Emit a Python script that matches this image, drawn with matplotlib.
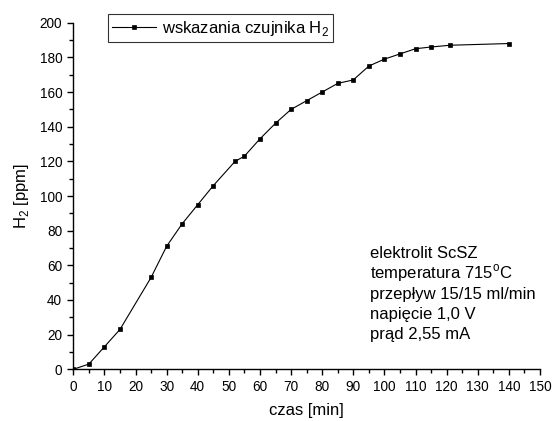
import matplotlib
matplotlib.use("Agg")
import matplotlib.pyplot as plt
from matplotlib.ticker import MultipleLocator

# odczyt czujnika H2 w czasie
czas = [0, 5, 10, 15, 25, 30, 35, 40, 45, 52, 55, 60, 65, 70, 75, 80,
        85, 90, 95, 100, 105, 110, 115, 121, 140]
h2 = [0, 3, 13, 23, 53, 71, 84, 95, 106, 120, 123, 133, 142, 150, 155, 160,
      165, 167, 175, 179, 182, 185, 186, 187, 188]

opis = ["elektrolit ScSZ",
        "temperatura 715$^{\\mathregular{o}}$C",
        "przepływ 15/15 ml/min",
        "napięcie 1,0 V",
        "prąd 2,55 mA"]

plt.rcParams["font.family"] = ["Liberation Sans", "DejaVu Sans"]

fig = plt.figure(figsize=(5.54, 4.21), dpi=100)
ax = fig.add_axes([0.1323, 0.1228, 0.8424, 0.8232])

ax.plot(czas, h2, color="black", lw=0.8, marker="s", ms=3.2, mew=0.5,
        label="wskazania czujnika H$_\\mathregular{2}$")

ax.set_xlim(0, 150)
ax.set_ylim(0, 200)
ax.xaxis.set_major_locator(MultipleLocator(10))
ax.xaxis.set_minor_locator(MultipleLocator(5))
ax.yaxis.set_major_locator(MultipleLocator(20))
ax.yaxis.set_minor_locator(MultipleLocator(10))
for s in ("top", "right"):
    ax.spines[s].set_visible(False)
for s in ("left", "bottom"):
    ax.spines[s].set_linewidth(1.0)
ax.tick_params(which="major", direction="out", length=4.5, width=1.0,
               labelsize=9.8, pad=3.5)
ax.tick_params(which="minor", direction="out", length=2.8, width=1.0)

ax.set_xlabel("czas [min]", fontsize=12, labelpad=6)
ax.set_ylabel("H$_\\mathregular{2}$ [ppm]", fontsize=12, labelpad=6)

leg = ax.legend(loc="upper left", bbox_to_anchor=(0.074, 1.025), fontsize=12,
                frameon=True, fancybox=False, edgecolor="black",
                borderaxespad=0, handlelength=2.6, borderpad=0.28,
                handletextpad=0.35)
leg.get_frame().set_linewidth(0.8)

for i, t in enumerate(opis):
    ax.text(0.636, 0.335 - i * 0.059, t, transform=ax.transAxes,
            fontsize=12, va="center", ha="left")

fig.savefig("out.png", dpi=100)
